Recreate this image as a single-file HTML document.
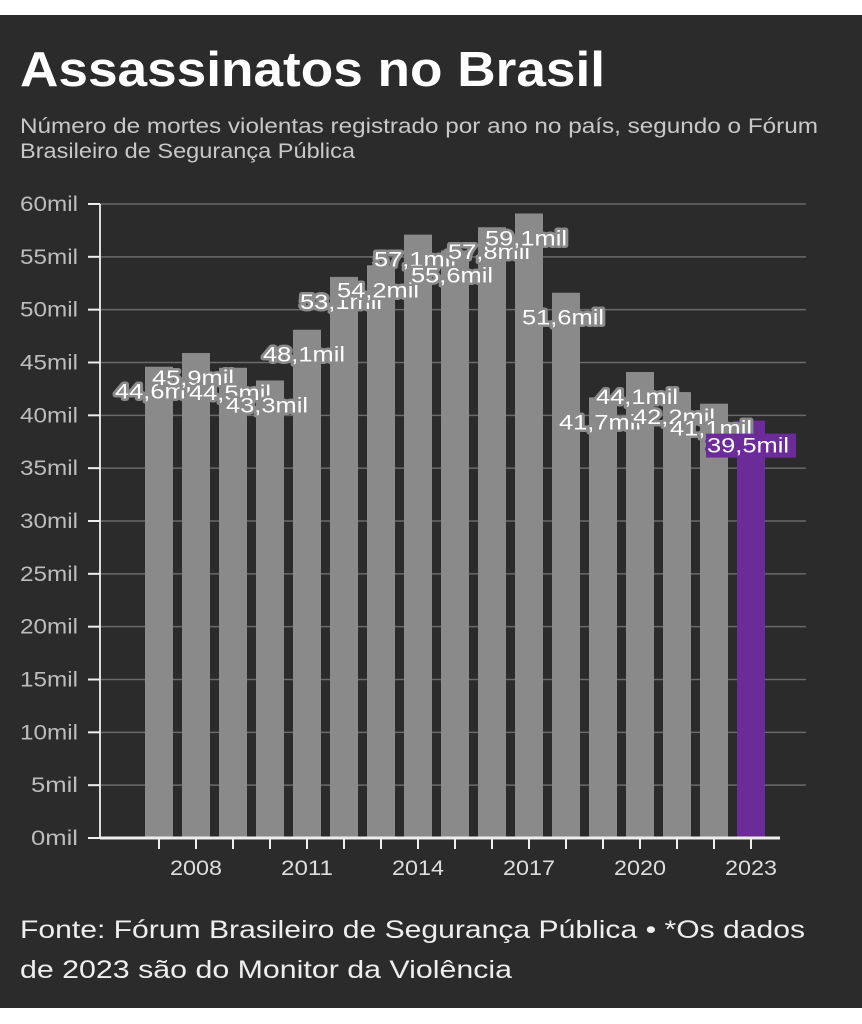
<!DOCTYPE html>
<html><head><meta charset="utf-8"><style>
html,body{margin:0;padding:0;background:#fff;}
body{width:862px;height:1024px;position:relative;overflow:hidden;font-family:"Liberation Sans",sans-serif;}
#p{position:absolute;left:0;top:15px;width:862px;height:993px;background:#2b2b2b;}
</style></head><body>
<div id="p"></div>
<svg width="862" height="1024" style="position:absolute;left:0;top:0" xmlns="http://www.w3.org/2000/svg" font-family="Liberation Sans, sans-serif">
<text x="20" y="86" font-size="49" font-weight="bold" fill="#fff" textLength="585" lengthAdjust="spacingAndGlyphs">Assassinatos no Brasil</text>
<text x="20" y="133" font-size="21" fill="#c8c8c8" textLength="798" lengthAdjust="spacingAndGlyphs">Número de mortes violentas registrado por ano no país, segundo o Fórum</text>
<text x="20" y="158" font-size="21" fill="#c8c8c8" textLength="335" lengthAdjust="spacingAndGlyphs">Brasileiro de Segurança Pública</text>
<g id="grid" stroke="#6a6a6a" stroke-width="1.5"></g>
<g id="bars"></g>
<g id="ylab" font-size="21" fill="#bdbdbd" text-anchor="end"></g>
<line x1="100" y1="204" x2="100" y2="838" stroke="#ddd" stroke-width="2"/>
<line x1="100" y1="838" x2="780" y2="838" stroke="#eee" stroke-width="3"/>
<g id="xt" stroke="#eee" stroke-width="2"></g>
<g font-size="21" fill="#ddd" text-anchor="middle">
<text x="196" y="875" textLength="52" lengthAdjust="spacingAndGlyphs">2008</text><text x="307" y="875" textLength="52" lengthAdjust="spacingAndGlyphs">2011</text><text x="418" y="875" textLength="52" lengthAdjust="spacingAndGlyphs">2014</text>
<text x="529" y="875" textLength="52" lengthAdjust="spacingAndGlyphs">2017</text><text x="640" y="875" textLength="52" lengthAdjust="spacingAndGlyphs">2020</text><text x="751" y="875" textLength="52" lengthAdjust="spacingAndGlyphs">2023</text>
</g>
<g id="lab" font-size="21" text-anchor="middle"></g>
<text x="20" y="938" font-size="25" fill="#eee" textLength="785" lengthAdjust="spacingAndGlyphs">Fonte: Fórum Brasileiro de Segurança Pública • *Os dados</text>
<text x="20" y="978" font-size="25" fill="#eee" textLength="492" lengthAdjust="spacingAndGlyphs">de 2023 são do Monitor da Violência</text>
</svg>
<script>
var ns="http://www.w3.org/2000/svg";
function el(p,t,a,txt){var e=document.createElementNS(ns,t);for(var k in a)e.setAttribute(k,a[k]);if(txt)e.textContent=txt;document.getElementById(p).appendChild(e);return e;}
for(var v=0;v<=60;v+=5){var y=838-v*10.567;
 if(v>0)el("grid","line",{x1:100,x2:806,y1:y,y2:y});
 el("ylab","text",{x:78,y:y+7,textLength:(v<10?47:58),lengthAdjust:"spacingAndGlyphs"},v+"mil");
 el("xt","line",{x1:88,x2:100,y1:y,y2:y});}
var d=[44.6,45.9,44.5,43.3,48.1,53.1,54.2,57.1,55.6,57.8,59.1,51.6,41.7,44.1,42.2,41.1,39.5];
d.forEach(function(v,i){var cx=159+i*37,top=838-v*10.567;
 el("bars","rect",{x:cx-14,y:top,width:28,height:838-top,fill:i==16?"#6b2c9a":"#8a8a8a"});
 el("xt","line",{x1:cx,x2:cx,y1:838,y2:849});});
d.forEach(function(v,i){var cx=159+i*37,top=838-v*10.567,s=(v.toFixed(1)).replace(".",",")+"mil";
 if(i==16){el("lab","rect",{x:706,y:top+13,width:90,height:24,fill:"#6b2c9a"});}
 el("lab","text",{x:cx-3,y:top+32,fill:"#fff",stroke:i==16?"#6b2c9a":"#8a8a8a","stroke-width":5,"paint-order":"stroke","stroke-linejoin":"round",textLength:82,lengthAdjust:"spacingAndGlyphs"},s);});
</script>
</body></html>
